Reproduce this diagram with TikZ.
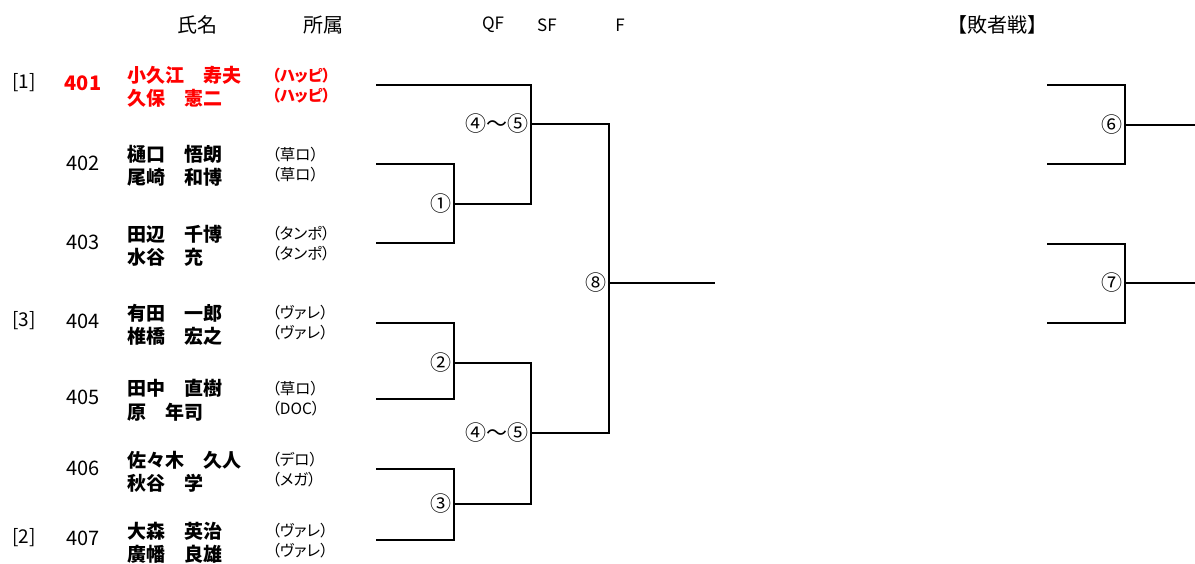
\documentclass[tikz,border=0pt]{standalone}
\usepackage{fontspec}
\setmainfont{Noto Sans CJK JP}
\newfontfamily\afffont[RawFeature=+palt]{Noto Sans CJK JP}
\begin{document}
\begin{tikzpicture}[x=1pt,y=-1pt,
  br/.style={line width=1.6pt,black},
  seed/.style={font=\fontsize{19}{23}\selectfont,inner sep=0pt},
  num/.style={font=\fontsize{20}{23}\selectfont,inner sep=0pt},
  nm/.style={font=\bfseries\fontsize{19}{23.5}\selectfont,align=left,anchor=west,inner sep=0pt},
  af/.style={font=\afffont\fontsize{15.5}{20}\selectfont,align=left,anchor=west,inner sep=0pt},
  circ/.style={font=\fontsize{21}{21}\selectfont,anchor=east,inner sep=2pt},
  hd/.style={font=\fontsize{20}{20}\selectfont,inner sep=0pt},
  rd/.style={font=\fontsize{17}{17}\selectfont,inner sep=0pt},
  win/.style={text=red}]
\useasboundingbox (0,0) rectangle (1195,563);

% headers
\node[hd] (hname) at (197,25) {氏名};
\node[hd] (haff) at (323,25) {所属};
\node[rd] (hqf) at (493,25) {QF};
\node[rd] (hsf) at (547,25) {SF};
\node[rd] (hf) at (620,25) {F};
\node[hd] (hlos) at (997,25) {【敗者戦】};

% seeds
\node[seed] (sd1) at (24,83) {[1]};
\node[seed] (sd3) at (24,321) {[3]};
\node[seed] (sd2) at (24,538) {[2]};

% entries
\node[num,win,font=\bfseries\fontsize{20}{23}\selectfont] (n1) at (83,83) {401};
\node[nm,win] (m1) at (127,87) {小久江　寿夫\\久保　憲二};
\node[af,win,font=\afffont\bfseries\fontsize{15.5}{20}\selectfont] (a1) at (272,86) {（ハッピ）\\（ハッピ）};

\node[num] (n2) at (83,163) {402};
\node[nm] (m2) at (127,166) {樋口　悟朗\\尾崎　和博};
\node[af] (a2) at (272,165) {（草ロ）\\（草ロ）};

\node[num] (n3) at (83,242) {403};
\node[nm] (m3) at (127,246) {田辺　千博\\水谷　充};
\node[af] (a3) at (272,244) {（タンポ）\\（タンポ）};

\node[num] (n4) at (83,321) {404};
\node[nm] (m4) at (127,325) {有田　一郎\\椎橋　宏之};
\node[af] (a4) at (272,323) {（ヴァレ）\\（ヴァレ）};

\node[num] (n5) at (83,397) {405};
\node[nm] (m5) at (127,400) {田中　直樹\\原　年司};
\node[af] (a5) at (272,399) {（草ロ）\\（DOC）};

\node[num] (n6) at (83,468) {406};
\node[nm] (m6) at (127,472) {佐々木　久人\\秋谷　学};
\node[af] (a6) at (272,470) {（デロ）\\（メガ）};

\node[num] (n7) at (83,538) {407};
\node[nm] (m7) at (127,543) {大森　英治\\廣幡　良雄};
\node[af] (a7) at (272,541) {（ヴァレ）\\（ヴァレ）};

% bracket start points
\coordinate (s1) at (376,85);
\coordinate (s2) at (376,164);
\coordinate (s3) at (376,243);
\coordinate (s4) at (376,323);
\coordinate (s5) at (376,399);
\coordinate (s6) at (376,469);
\coordinate (s7) at (376,540);

% junctions
\coordinate (j1) at (454,204);
\coordinate (j2) at (454,363);
\coordinate (j3) at (454,504);
\coordinate (ja) at (531,124);
\coordinate (jb) at (531,433);
\coordinate (j8) at (609,283);
\coordinate (fin) at (715,283);

\draw[br] (s2) -| (j1);
\draw[br] (s3) -| (j1);
\draw[br] (s4) -| (j2);
\draw[br] (s5) -| (j2);
\draw[br] (s6) -| (j3);
\draw[br] (s7) -| (j3);
\draw[br] (s1) -| (ja);
\draw[br] (j1) -| (ja);
\draw[br] (j2) -| (jb);
\draw[br] (j3) -| (jb);
\draw[br] (ja) -| (j8);
\draw[br] (jb) -| (j8);
\draw[br] (j8) -- (fin);

\node[circ] (c1) at (j1) {①};
\node[circ] (c2) at (j2) {②};
\node[circ] (c3) at (j3) {③};
\node[circ] (ca) at (ja) {④〜⑤};
\node[circ] (cb) at (jb) {④〜⑤};
\node[circ] (c8) at (j8) {⑧};

% losers bracket
\coordinate (l1) at (1047,85);
\coordinate (l2) at (1047,164);
\coordinate (l3) at (1047,244);
\coordinate (l4) at (1047,323);
\coordinate (j6) at (1125,125);
\coordinate (j7) at (1125,283);
\coordinate (o6) at (1195,125);
\coordinate (o7) at (1195,283);
\draw[br] (l1) -| (j6);
\draw[br] (l2) -| (j6);
\draw[br] (l3) -| (j7);
\draw[br] (l4) -| (j7);
\draw[br] (j6) -- (o6);
\draw[br] (j7) -- (o7);
\node[circ] (c6) at (j6) {⑥};
\node[circ] (c7) at (j7) {⑦};
\end{tikzpicture}
\end{document}
